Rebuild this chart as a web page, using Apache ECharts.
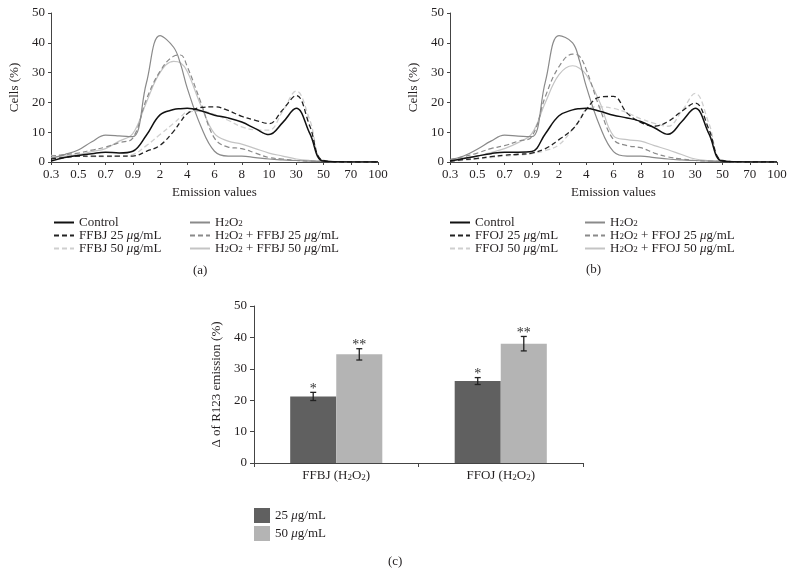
<!DOCTYPE html>
<html><head><meta charset="utf-8">
<script src="https://cdn.jsdelivr.net/npm/echarts@6/dist/echarts.min.js"></script>
<style>html,body{margin:0;padding:0;background:#fff}#c{width:795px;height:577px}</style>
</head><body><div id="c"></div>
<script>
// ---------- data ----------
const xTickLabels = ['0.3','0.5','0.7','0.9','2','4','6','8','10','30','50','70','100'];
// sample positions along the category index scale (0 = "0.3", 12 = "100")
const samplePos = [0,0.5,1,1.5,2,2.5,3,3.5,4,4.5,4.75,5,5.5,6,6.5,7,7.5,8,8.5,9,9.5,10,11,12];

// panel (a)
const aControl = [0.3,1.5,2.2,2.8,3.3,3.0,3.6,9,15.8,17.6,17.9,18,17.2,15.7,14.8,13.4,11.2,9.2,13.2,18,9.5,0.3,0,0];
const aFFBJ25  = [1,1.5,2,2,2,2,2,3.6,5.6,10.3,13.5,16.2,18.3,18.5,17.3,15.3,14,12.9,17.5,22.3,12,0.5,0,0];
const aFFBJ50  = [2.2,2.1,2,1.8,1.8,2,2.5,5.5,9.2,13,15,16.8,17,16,14,11.8,10.8,10.7,17,23.8,14,0.5,0,0];
const aH2O2    = [1.3,2.5,4,6.8,9,8.8,8.5,26.5,42.4,38.5,33,24.8,12,3.6,2,2,1.5,1,0.7,0.5,0.3,0.2,0,0];
const aH2O2_25 = [2,2.5,3,4,5,6.5,8,21,30.4,35.5,35.9,32,20,8,5,4.5,3,1.5,1,0.5,0.3,0.2,0,0];
const aH2O2_50 = [1.5,2,2.5,3.5,4.5,7,9.5,20,30,33.8,33.3,30.4,19,9.5,7,6,4.5,3,2,1,0.5,0.3,0,0];

// panel (b)
const bControl = [0.3,1.2,2,2.8,3.3,3.3,3.5,9.5,15.5,17.5,17.9,18,17,15.7,14.8,13.6,11.5,9.3,13.5,18,9.5,0.3,0,0];
const bFFOJ25  = [0.3,0.8,1.2,1.8,2.3,2.6,3,4.5,7.5,11,14,17.6,21.8,22,16.4,13.3,12,13.6,17,19.8,11,0.5,0,0];
const bFFOJ50  = [0.3,0.6,1,1.5,2,2.3,2.8,3.8,5.8,11,14,17.6,18.5,18,16.5,14.5,13,12,17,23,13,0.5,0,0];
const bH2O2    = [0.8,2,4.3,7,9,8.7,8.5,27,42.4,40,34,25.4,12,3.5,2,2,1.5,1,0.7,0.5,0.3,0.2,0,0];
const bH2O2_25 = [0.8,1.8,3,4.5,5.5,7,8.5,22,32,36.2,35.5,31,18,7.5,5.5,4.8,3,1.7,1,0.5,0.3,0.2,0,0];
const bH2O2_50 = [0.5,1.2,2,3.2,4.5,6.5,9.5,20,29.3,32.3,31.5,29.3,20,8.8,7.5,7,5.5,4.1,2.5,1,0.5,0.3,0,0];

// panel (c)
const barCategories = ['FFBJ (H2O2)', 'FFOJ (H2O2)'];
const dose25 = [21.2, 26.1];
const dose50 = [34.6, 38.0];
const err25  = [1.3, 1.1];
const err50  = [1.8, 2.3];
const stars25 = ['*', '*'];
const stars50 = ['**', '**'];

// ---------- helpers ----------
const FONT = '"Liberation Serif", "DejaVu Serif", serif';
const TXT = '#231f20';
function pts(vals){ return samplePos.map((p,i)=>[p, vals[i]]); }
function richName(s){
  return s.replace(/H2O2/g,'H{s|2}O{s|2}').replace(/μ/g,'{i|μ}');
}
const richStyles = {
  s:{fontSize:9, fontFamily:FONT, color:TXT, lineHeight:2, verticalAlign:'bottom'},
  i:{fontSize:13, fontFamily:FONT, color:TXT, fontStyle:'italic', lineHeight:12}
};
const styles = {
  'Control': {color:'#111', type:'solid', width:1.5},
  'F25':     {color:'#222', type:[5,3], width:1.3},
  'F50':     {color:'#cfcfcf', type:[5,3], width:1.3},
  'H':       {color:'#8a8a8a', type:'solid', width:1.2},
  'H25':     {color:'#8a8a8a', type:[5,3], width:1.2},
  'H50':     {color:'#c4c4c4', type:'solid', width:1.2}
};
function lineSeries(panel, name, key, vals, gi){
  const st = styles[key];
  return {type:'line', name: panel+'|'+name, xAxisIndex:gi, yAxisIndex:gi, data:pts(vals),
    smooth:0.4, symbol:'none', color:st.color,
    lineStyle:{color:st.color, type:st.type, width:st.width}, z: key==='Control'?5:3};
}

function lineGrid(left){ return {left:left, top:13, width:327, height:149}; }
function lineXAxis(gi){
  return {type:'value', gridIndex:gi, min:0, max:12, interval:1,
    name:'Emission values', nameLocation:'middle', nameGap:24,
    nameTextStyle:{fontFamily:FONT, fontSize:13, color:TXT},
    axisLine:{lineStyle:{color:'#444', width:1}},
    axisTick:{show:true, length:3, lineStyle:{color:'#444'}},
    splitLine:{show:false},
    axisLabel:{fontFamily:FONT, fontSize:13, color:TXT, margin:6,
      formatter:(v)=>xTickLabels[Math.round(v)] || ''}};
}
function lineYAxis(gi){
  return {type:'value', gridIndex:gi, min:0, max:50, interval:10,
    name:'Cells (%)', nameLocation:'middle', nameGap:30,
    nameTextStyle:{fontFamily:FONT, fontSize:13, color:TXT},
    axisLine:{show:true, lineStyle:{color:'#444', width:1}},
    axisTick:{show:true, length:3, lineStyle:{color:'#444'}},
    splitLine:{show:false},
    axisLabel:{fontFamily:FONT, fontSize:13, color:TXT, margin:6}};
}
function legendBlock(left, names){
  return {orient:'vertical', left:left, top:216, padding:0, itemWidth:20, itemHeight:12, itemGap:0, itemTextGap:12,
    data:names, selectedMode:false, itemStyle:{opacity:0},
    textStyle:{fontFamily:FONT, fontSize:13, color:TXT, lineHeight:12, rich:richStyles},
    formatter:(n)=>richName(n.slice(2))};
}

function errRender(sign, stars){
  return function(params, api){
    const ci = api.value(0), v = api.value(1), e = api.value(2);
    const w = api.size([1,0])[0];
    const c = api.coord([ci, v]);
    const cx = c[0] + sign * w * 0.14;
    const top = api.coord([ci, v + e])[1];
    const bot = api.coord([ci, v - e])[1];
    const ls = {stroke:'#222', lineWidth:1.3};
    return {type:'group', children:[
      {type:'line', shape:{x1:cx, y1:top, x2:cx, y2:bot}, style:ls},
      {type:'line', shape:{x1:cx-3, y1:top, x2:cx+3, y2:top}, style:ls},
      {type:'line', shape:{x1:cx-3, y1:bot, x2:cx+3, y2:bot}, style:ls},
      {type:'text', x:cx, y:top-3, style:{text:stars[params.dataIndex], fill:'#333',
        font:'14px '+FONT, textAlign:'center', textVerticalAlign:'middle'}}
    ]};
  };
}

const chart = echarts.init(document.getElementById('c'), null, {renderer:'canvas'});
chart.setOption({
  animation:false,
  backgroundColor:'#fff',
  grid:[lineGrid(51), lineGrid(450), {left:254, top:306, width:329, height:157}],
  xAxis:[lineXAxis(0), lineXAxis(1),
    {type:'category', gridIndex:2, data:barCategories,
      axisLine:{lineStyle:{color:'#444'}}, axisTick:{show:true, length:4, lineStyle:{color:'#444'}},
      axisLabel:{fontFamily:FONT, fontSize:13, color:TXT, margin:7, lineHeight:12, rich:richStyles,
        formatter:(v)=>richName(v)}}],
  yAxis:[lineYAxis(0), lineYAxis(1),
    {type:'value', gridIndex:2, min:0, max:50, interval:10,
      name:'Δ of R123 emission (%)', nameLocation:'middle', nameGap:31,
      nameTextStyle:{fontFamily:FONT, fontSize:13, color:TXT},
      axisLine:{show:true, lineStyle:{color:'#444'}},
      axisTick:{show:true, length:4, lineStyle:{color:'#444'}},
      splitLine:{show:false},
      axisLabel:{fontFamily:FONT, fontSize:13, color:TXT, margin:7}}],
  legend:[
    legendBlock(53, ['a|Control','a|FFBJ 25 μg/mL','a|FFBJ 50 μg/mL']),
    legendBlock(189, ['a|H2O2','a|H2O2 + FFBJ 25 μg/mL','a|H2O2 + FFBJ 50 μg/mL']),
    legendBlock(449, ['b|Control','b|FFOJ 25 μg/mL','b|FFOJ 50 μg/mL']),
    legendBlock(584, ['b|H2O2','b|H2O2 + FFOJ 25 μg/mL','b|H2O2 + FFOJ 50 μg/mL']),
    {orient:'vertical', left:254, top:508, padding:0, itemWidth:16, itemHeight:15, itemGap:3, itemTextGap:9,
      icon:'rect', selectedMode:false, data:['25 μg/mL','50 μg/mL'],
      textStyle:{fontFamily:FONT, fontSize:13, color:TXT, rich:richStyles},
      formatter:(n)=>richName(n)}
  ],
  graphic:[
    {type:'text', left:193, top:264, style:{text:'(a)', font:'13px '+FONT, fill:TXT}},
    {type:'text', left:586, top:263, style:{text:'(b)', font:'13px '+FONT, fill:TXT}},
    {type:'text', left:388, top:555, style:{text:'(c)', font:'13px '+FONT, fill:TXT}}
  ],
  series:[
    lineSeries('a','FFBJ 50 μg/mL','F50',aFFBJ50,0),
    lineSeries('a','H2O2 + FFBJ 50 μg/mL','H50',aH2O2_50,0),
    lineSeries('a','H2O2 + FFBJ 25 μg/mL','H25',aH2O2_25,0),
    lineSeries('a','H2O2','H',aH2O2,0),
    lineSeries('a','FFBJ 25 μg/mL','F25',aFFBJ25,0),
    lineSeries('a','Control','Control',aControl,0),
    lineSeries('b','FFOJ 50 μg/mL','F50',bFFOJ50,1),
    lineSeries('b','H2O2 + FFOJ 50 μg/mL','H50',bH2O2_50,1),
    lineSeries('b','H2O2 + FFOJ 25 μg/mL','H25',bH2O2_25,1),
    lineSeries('b','H2O2','H',bH2O2,1),
    lineSeries('b','FFOJ 25 μg/mL','F25',bFFOJ25,1),
    lineSeries('b','Control','Control',bControl,1),
    {type:'bar', name:'25 μg/mL', xAxisIndex:2, yAxisIndex:2, data:dose25, color:'#606060',
      barGap:'0%', barCategoryGap:'44%', itemStyle:{color:'#606060'}},
    {type:'bar', name:'50 μg/mL', xAxisIndex:2, yAxisIndex:2, data:dose50, color:'#b4b4b4',
      barGap:'0%', barCategoryGap:'44%', itemStyle:{color:'#b4b4b4'}},
    {type:'custom', xAxisIndex:2, yAxisIndex:2, renderItem:errRender(-1, stars25),
      data:dose25.map((v,i)=>[i,v,err25[i]]), z:10},
    {type:'custom', xAxisIndex:2, yAxisIndex:2, renderItem:errRender(1, stars50),
      data:dose50.map((v,i)=>[i,v,err50[i]]), z:10}
  ]
});
</script></body></html>
